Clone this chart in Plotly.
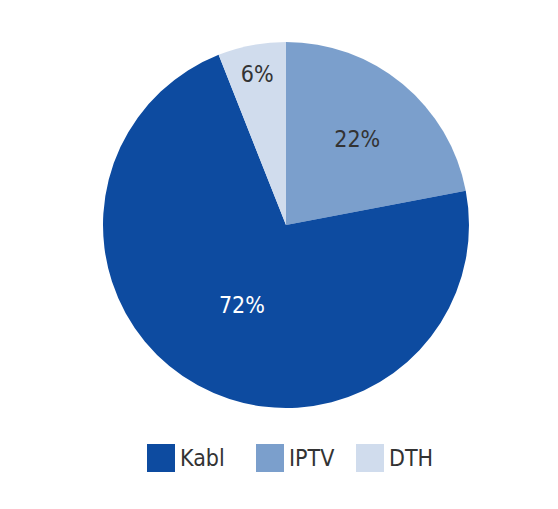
import plotly.graph_objects as go

# slice order clockwise from 12 o'clock
labels = ["IPTV", "Kabl", "DTH"]
values = [22, 72, 6]
colors = ["#7b9fcc", "#0d4ba0", "#d0dced"]
text_colors = ["#333333", "#ffffff", "#333333"]

legend_order = ["Kabl", "IPTV", "DTH"]

FONT = "DejaVu Sans Condensed, Liberation Sans Narrow, Roboto, sans-serif"
W, H = 558, 509
dx, dy = -8, -8  # page body margin correction


def px(x):
    return (x + dx) / W


def py(y):
    return (H - y - dy) / H


fig = go.Figure(go.Pie(
    labels=labels,
    values=values,
    sort=False,
    direction="clockwise",
    rotation=0,
    marker=dict(colors=colors, line=dict(width=0)),
    texttemplate="%{percent:.0%}",
    textposition="inside",
    insidetextorientation="horizontal",
    textfont=dict(family=FONT, size=23, color=text_colors),
    domain=dict(x=[px(103), px(469)], y=[py(408), py(42)]),
    showlegend=False,
    hoverinfo="label+percent",
))

# custom legend
sq_x = [147, 256, 356]
shapes = []
annotations = []
for i, lab in enumerate(legend_order):
    x0 = sq_x[i]
    col = colors[labels.index(lab)]
    shapes.append(dict(type="rect", xref="paper", yref="paper",
                       x0=px(x0), x1=px(x0 + 28),
                       y0=py(472), y1=py(444),
                       fillcolor=col, line=dict(width=0)))
    annotations.append(dict(xref="paper", yref="paper",
                            x=px(x0 + 31), y=py(458),
                            xanchor="left", yanchor="middle",
                            text=lab, showarrow=False,
                            font=dict(family=FONT, size=23, color="#333333")))

fig.update_layout(
    width=W, height=H,
    margin=dict(l=0, r=0, t=0, b=0),
    paper_bgcolor="white",
    plot_bgcolor="white",
    shapes=shapes,
    annotations=annotations,
)

fig.write_html("out.html")
